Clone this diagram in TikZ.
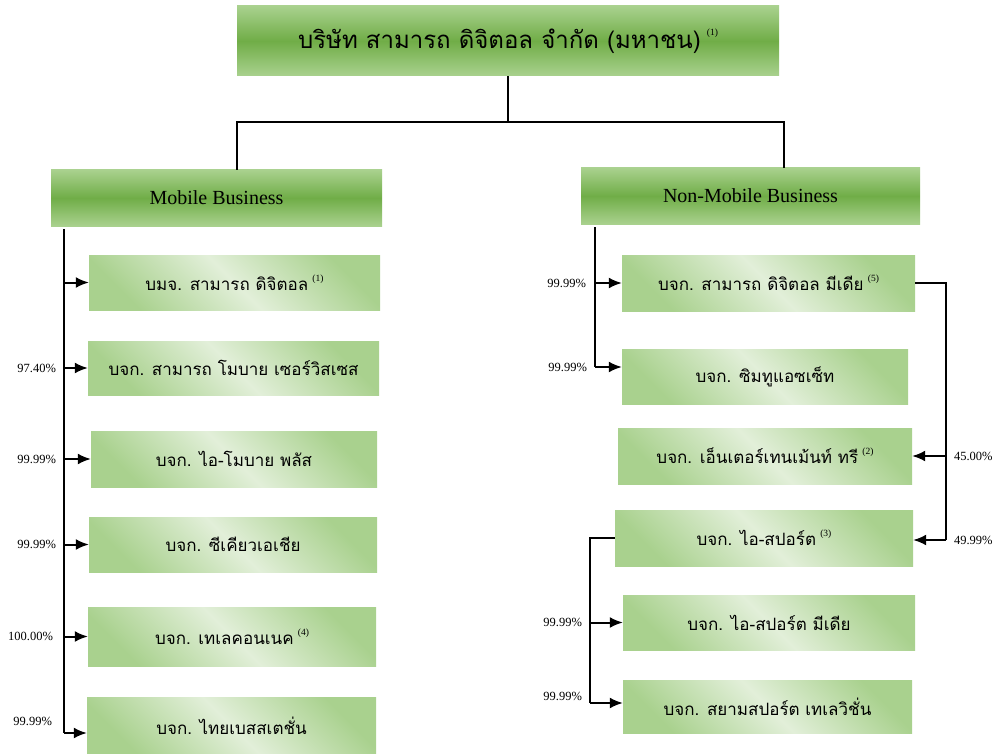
\documentclass[tikz,border=0pt]{standalone}
\usepackage{fontspec}
\setmainfont{Liberation Serif}
\newfontfamily\thaifont[Script=Thai]{Loma}
\usetikzlibrary{arrows.meta}
\definecolor{lgreen}{HTML}{E2EFD9}
\definecolor{mgreen}{HTML}{A9D18E}
\definecolor{dgreen}{HTML}{70AD47}
\newcommand{\fnref}[1]{\raisebox{1.2ex}{\fontsize{9.5}{10}\selectfont\rmfamily(#1)}}
\newcommand{\thtext}[2]{{\thaifont #1}\ifx&#2&\else\ \fnref{#2}\fi}

\begin{document}
\begin{tikzpicture}[x=1pt,y=-1pt,
    headbox/.style={inner sep=0pt, top color=mgreen, bottom color=mgreen, middle color=dgreen},
    subbox/.style={inner sep=0pt, top color=mgreen, bottom color=mgreen, middle color=lgreen, shading angle=-45,
      font=\fontsize{17}{19}\selectfont},
    link/.style={line width=2pt},
    arr/.style={line width=2pt, -{Latex[length=13pt,width=11pt]}},
    pct/.style={font=\fontsize{12.5}{13}\selectfont, inner sep=0pt}]
    \useasboundingbox (0,0) rectangle (995,754);
    \coordinate (jl) at (237,122);
    \coordinate (jr) at (784,122);
    \coordinate (lt) at (64,229);
    \coordinate (lb) at (64,733);
    \coordinate (rt) at (595,227);
    \coordinate (rb) at (595,367);
    \coordinate (rd) at (946,540);
    \coordinate (sb) at (590,703);

    \node[headbox, minimum width=542pt, minimum height=70pt, font=\fontsize{24}{27}\selectfont]
      (top) at (508,41) {\thtext{บริษัท สามารถ ดิจิตอล จำกัด (มหาชน)}{1}};
    \node[headbox, minimum width=331pt, minimum height=56pt, font=\fontsize{20}{22}\selectfont]
      (mob) at (216.5,198) {Mobile Business};
    \node[headbox, minimum width=339pt, minimum height=56pt, font=\fontsize{20}{22}\selectfont]
      (nmob) at (750.5,196) {Non-Mobile Business};

    \node[subbox, minimum width=291pt, minimum height=55pt] (l1) at (234.5,282.5) {\thtext{บมจ. สามารถ ดิจิตอล}{1}};
    \node[subbox, minimum width=291pt, minimum height=54pt] (l2) at (233.5,368) {\thtext{บจก. สามารถ โมบาย เซอร์วิสเซส}{}};
    \node[subbox, minimum width=286pt, minimum height=56pt] (l3) at (234,459) {\thtext{บจก. ไอ-โมบาย พลัส}{}};
    \node[subbox, minimum width=288pt, minimum height=55pt] (l4) at (233,544.5) {\thtext{บจก. ซีเคียวเอเชีย}{}};
    \node[subbox, minimum width=288pt, minimum height=59pt] (l5) at (232,636.5) {\thtext{บจก. เทเลคอนเนค}{4}};
    \node[subbox, minimum width=289pt, minimum height=58pt] (l6) at (231.5,726) {\thtext{บจก. ไทยเบสสเตชั่น}{}};

    \node[subbox, minimum width=293pt, minimum height=56pt] (r1) at (768.5,283) {\thtext{บจก. สามารถ ดิจิตอล มีเดีย}{5}};
    \node[subbox, minimum width=286pt, minimum height=55pt] (r2) at (765,376.5) {\thtext{บจก. ซิมทูแอซเซ็ท}{}};
    \node[subbox, minimum width=294pt, minimum height=56pt] (r3) at (765,456) {\thtext{บจก. เอ็นเตอร์เทนเม้นท์ ทรี}{2}};
    \node[subbox, minimum width=298pt, minimum height=56pt] (r4) at (764,538) {\thtext{บจก. ไอ-สปอร์ต}{3}};
    \node[subbox, minimum width=292pt, minimum height=55pt] (r5) at (769,622.5) {\thtext{บจก. ไอ-สปอร์ต มีเดีย}{}};
    \node[subbox, minimum width=289pt, minimum height=53pt] (r6) at (767.5,706.5) {\thtext{บจก. สยามสปอร์ต เทเลวิชั่น}{}};

    \draw[link] (top.south) -- (top.south |- jl);
    \draw[link] (jl |- mob.north) -- (jl) -- (jr) -- (jr |- nmob.north);

    \draw[link] (lt) -- (lb);
    \draw[arr] (lt |- l1) -- (l1);
    \draw[arr] (lt |- l2) node[pct, anchor=east, xshift=-7pt] {97.40\%} -- (l2);
    \draw[arr] (lt |- l3) node[pct, anchor=east, xshift=-7pt] {99.99\%} -- (l3);
    \draw[arr] (lt |- l4) node[pct, anchor=east, xshift=-7pt] {99.99\%} -- (l4);
    \draw[arr] (lt |- l5) node[pct, anchor=east, xshift=-10pt] {100.00\%} -- (l5);
    \draw[arr] (lb) node[pct, anchor=east, xshift=-11pt, yshift=12pt] {99.99\%} -- (lb -| l6.west);

    \draw[link] (rt) -- (rb);
    \draw[arr] (rt |- r1) node[pct, anchor=east, xshift=-8pt] {99.99\%} -- (r1);
    \draw[arr] (rb) node[pct, anchor=east, xshift=-7pt] {99.99\%} -- (rb -| r2.west);

    \draw[link] (r1.east) -| (rd);
    \draw[arr] (rd |- r3) node[pct, anchor=west, xshift=7pt] {45.00\%} -- (r3);
    \draw[arr] (rd) node[pct, anchor=west, xshift=7pt] {49.99\%} -- (rd -| r4.east);

    \draw[link] (r4.west) -| (sb);
    \draw[arr] (sb |- r5) node[pct, anchor=east, xshift=-7pt] {99.99\%} -- (r5);
    \draw[arr] (sb) node[pct, anchor=east, xshift=-7pt, yshift=7pt] {99.99\%} -- (sb -| r6.west);
\end{tikzpicture}
\end{document}
